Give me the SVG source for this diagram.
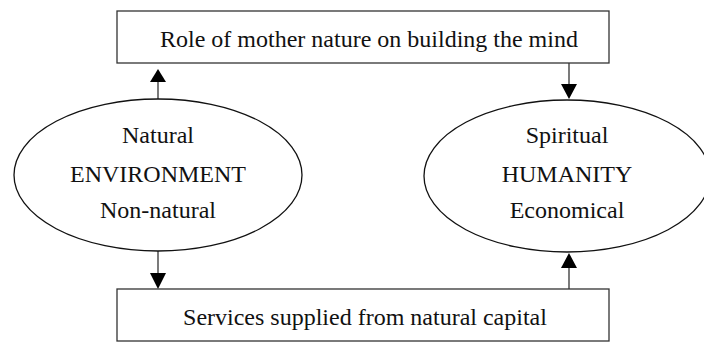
<svg xmlns="http://www.w3.org/2000/svg" width="704" height="342" viewBox="0 0 704 342">
<style>
.box{fill:#fff;stroke:#333;stroke-width:1.3}
.ell{fill:#fff;stroke:#111;stroke-width:1.3}
.t{font-family:"Liberation Serif","Times New Roman",serif;font-size:24px;fill:#111;text-anchor:middle}
.c{stroke:#333;stroke-width:1.3;fill:none}
.ah{fill:#000}
</style>
<rect width="704" height="342" fill="#fff"/>
<g id="connectors">
<line class="c" x1="158" y1="99" x2="158" y2="80"/>
<polygon class="ah" points="158,69 150,82 166,82"/>
<line class="c" x1="569" y1="63" x2="569" y2="86"/>
<polygon class="ah" points="569,99 561,84 577,84"/>
<line class="c" x1="158" y1="251" x2="158" y2="275"/>
<polygon class="ah" points="158,289 150,273 166,273"/>
<line class="c" x1="569" y1="289" x2="569" y2="266"/>
<polygon class="ah" points="569,253 561,268 577,268"/>
</g>
<g id="top">
<rect class="box" x="117" y="11" width="492" height="52"/>
<text class="t" x="369" y="47">Role of mother nature on building the mind</text>
</g>
<g id="environment">
<ellipse class="ell" cx="158" cy="175" rx="144" ry="76"/>
<text class="t" x="158" y="143">Natural</text>
<text class="t" x="158" y="182">ENVIRONMENT</text>
<text class="t" x="158" y="218">Non-natural</text>
</g>
<g id="humanity">
<ellipse class="ell" cx="567" cy="176" rx="143" ry="76"/>
<text class="t" x="567" y="143">Spiritual</text>
<text class="t" x="567" y="182">HUMANITY</text>
<text class="t" x="567" y="218">Economical</text>
</g>
<g id="bottom">
<rect class="box" x="117" y="289" width="492" height="52"/>
<text class="t" x="365" y="325">Services supplied from natural capital</text>
</g>
</svg>
